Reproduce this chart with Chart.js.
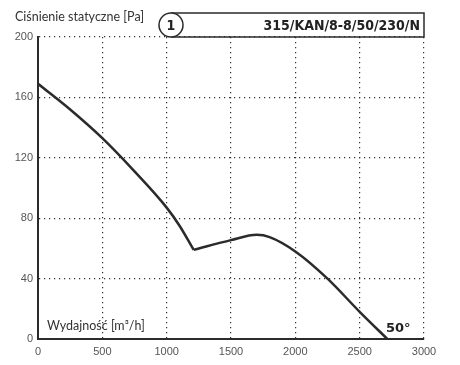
<!DOCTYPE html>
<html><head><meta charset="utf-8">
<script src="https://cdn.jsdelivr.net/npm/chart.js@4"></script>
<style>html,body{margin:0;padding:0;background:#fff}#c{display:block}</style>
</head><body>
<canvas id="c" width="460" height="365"></canvas>
<script>
// Data
const flowA = [0, 250, 500, 750, 1000, 1100, 1210];
const pressureA = [169, 152, 133, 111, 87, 75, 59];
const flowB = [1210, 1500, 1700, 1800, 2000, 2250, 2500, 2715];
const pressureB = [59, 65.5, 69, 67.5, 58, 40, 18, 0];
const xTicks = [0, 500, 1000, 1500, 2000, 2500, 3000];
const yTicks = [0, 40, 80, 120, 160, 200];
const yTitle = 'Ciśnienie statyczne [Pa]';
const xTitle = 'Wydajność [m³/h]';
const modelName = '315/KAN/8-8/50/230/N';
const curveNo = '1';
const angleLabel = '50°';

const toPts = (xs, ys) => xs.map((x, i) => ({x, y: ys[i]}));
const LINE = '#2b2b2b';

const overlay = {
  id: 'overlay',
  afterDraw(chart) {
    const {ctx, chartArea: a} = chart;
    ctx.save();
    // y title
    ctx.fillStyle = '#333';
    ctx.font = '12.5px Lato';
    ctx.textBaseline = 'middle';
    ctx.textAlign = 'left';
    ctx.fillText(yTitle, 15, 17);
    // box
    ctx.strokeStyle = LINE;
    ctx.lineWidth = 1.5;
    ctx.beginPath();
    ctx.moveTo(171, 13);
    ctx.lineTo(a.right, 13);
    ctx.lineTo(a.right, a.top);
    ctx.lineTo(171, a.top);
    ctx.stroke();
    ctx.beginPath();
    ctx.arc(171, 25, 12, 0, Math.PI * 2);
    ctx.fillStyle = '#fff';
    ctx.fill();
    ctx.stroke();
    ctx.fillStyle = '#222';
    ctx.font = 'bold 14px "DejaVu Sans Condensed"';
    ctx.textAlign = 'center';
    ctx.fillText(curveNo, 171, 26);
    ctx.textAlign = 'right';
    ctx.font = 'bold 14px "DejaVu Sans Condensed"';
    ctx.fillText(modelName, a.right - 4, 26);
    // x title
    ctx.textAlign = 'left';
    ctx.fillStyle = '#333';
    ctx.font = '12.5px Lato';
    ctx.fillText(xTitle, 47, 326);
    // angle label
    ctx.font = 'bold 13px "DejaVu Sans"';
    ctx.fillStyle = '#222';
    ctx.fillText(angleLabel, 386, 329);
    ctx.restore();
  }
};

const gridOpts = {color: '#333', lineWidth: 1.2, drawTicks: false};
new Chart(document.getElementById('c'), {
  type: 'line',
  data: {
    datasets: [
      {data: toPts(flowA, pressureA), borderColor: LINE, borderWidth: 2.5, pointRadius: 0, cubicInterpolationMode: 'monotone', fill: false},
      {data: toPts(flowB, pressureB), borderColor: LINE, borderWidth: 2.5, pointRadius: 0, cubicInterpolationMode: 'monotone', fill: false}
    ]
  },
  options: {
    responsive: false,
    animation: false,
    events: [],
    layout: {padding: {left: 0, top: 37, right: 36, bottom: 6}},
    plugins: {legend: {display: false}, tooltip: {enabled: false}},
    scales: {
      x: {
        type: 'linear', min: 0, max: 3000,
        afterBuildTicks: s => { s.ticks = xTicks.map(v => ({value: v})); },
        afterFit: s => { s.height = 20; },
        grid: gridOpts,
        border: {display: true, color: LINE, width: 2, dash: [1.2, 3.8]},
        ticks: {color: '#555', font: {family: 'Liberation Sans', size: 11}, padding: 6, maxRotation: 0, callback: v => String(v)}
      },
      y: {
        min: 0, max: 200,
        afterBuildTicks: s => { s.ticks = yTicks.map(v => ({value: v})); },
        afterFit: s => { s.width = 38; },
        grid: gridOpts,
        border: {display: true, color: LINE, width: 2, dash: [1.2, 3.8]},
        ticks: {color: '#555', font: {family: 'Liberation Sans', size: 11}, padding: 5, callback: v => String(v)}
      }
    }
  },
  plugins: [overlay]
});
</script>
</body></html>
